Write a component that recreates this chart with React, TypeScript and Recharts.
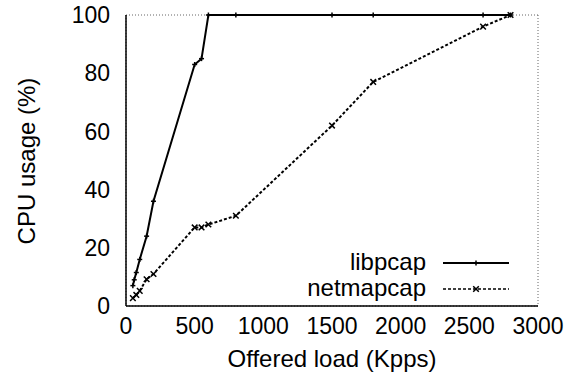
import React from "react";
import {
  LineChart,
  Line,
  XAxis,
  YAxis,
  CartesianGrid,
  ReferenceArea,
} from "recharts";

const libpcapLoad = [50, 60, 75, 100, 150, 200, 500, 550, 600, 800, 1500, 1800, 2600, 2800];
const libpcapCpu = [7, 9, 11.5, 16, 24, 36, 83, 85, 100, 100, 100, 100, 100, 100];
const netmapLoad = [50, 75, 100, 150, 200, 500, 550, 600, 800, 1500, 1800, 2600, 2800];
const netmapCpu = [2.7, 3.8, 5.2, 9.2, 11, 27, 27, 28, 31, 62, 77, 96, 100];

const allLoads = Array.from(new Set([...libpcapLoad, ...netmapLoad])).sort((a, b) => a - b);
const chartData = allLoads.map((x) => {
  const li = libpcapLoad.indexOf(x);
  const ni = netmapLoad.indexOf(x);
  return {
    x,
    libpcap: li >= 0 ? libpcapCpu[li] : null,
    netmapcap: ni >= 0 ? netmapCpu[ni] : null,
  };
});
const frameData = allLoads.map((x) => ({ x }));

const FONT = "'Liberation Sans', Arial, Helvetica, sans-serif";
const W = 571;
const H = 386;
const MARGIN = { top: 15, right: 33, bottom: 0, left: 0 };

const PlusDot = (props: any) => {
  const { cx, cy, value } = props;
  if (cx == null || cy == null || value == null) return <g />;
  const s = 2.5;
  return (
    <g>
      <line x1={cx - s} y1={cy} x2={cx + s} y2={cy} stroke="#000" strokeWidth={1.5} />
      <line x1={cx} y1={cy - s} x2={cx} y2={cy + s} stroke="#000" strokeWidth={1.5} />
    </g>
  );
};

const CrossDot = (props: any) => {
  const { cx, cy, value } = props;
  if (cx == null || cy == null || value == null) return <g />;
  const s = 2.8;
  return (
    <g>
      <line x1={cx - s} y1={cy - s} x2={cx + s} y2={cy + s} stroke="#000" strokeWidth={1.5} />
      <line x1={cx - s} y1={cy + s} x2={cx + s} y2={cy - s} stroke="#000" strokeWidth={1.5} />
    </g>
  );
};

const LegendBox = () => {
  const row = (label: string, dash: string | undefined, marker: "plus" | "cross") => (
    <div style={{ display: "flex", alignItems: "center", height: 26 }}>
      <div style={{ width: 161, textAlign: "right", fontSize: 24, color: "#000", lineHeight: "26px" }}>
        {label}
      </div>
      <svg width={100} height={26} style={{ display: "block" }}>
        <line x1={17} y1={14} x2={83} y2={14} stroke="#000" strokeWidth={marker === "plus" ? 2 : 1.5} strokeDasharray={dash} />
        {marker === "plus" ? <PlusDot cx={50} cy={14} value={1} /> : <CrossDot cx={50} cy={14} value={1} />}
      </svg>
    </div>
  );
  return (
    <div style={{ position: "absolute", left: 265, top: 249, width: 271, height: 51, background: "#fff" }}>
      {row("libpcap", undefined, "plus")}
      {row("netmapcap", "3 2", "cross")}
    </div>
  );
};

export default function App() {
  return (
    <div
      style={{
        position: "absolute",
        left: 0,
        top: 0,
        width: W,
        height: H,
        background: "#fff",
        fontFamily: FONT,
      }}
    >
      {/* frame layer: grid, border, inward ticks */}
      <div style={{ position: "absolute", left: 0, top: 0 }}>
        <LineChart width={W} height={H} data={frameData} margin={MARGIN}>
          <CartesianGrid stroke="#666" strokeWidth={1} strokeDasharray="1 2" />
          <XAxis
            dataKey="x"
            type="number"
            domain={[0, 3000]}
            tickCount={7}
            height={80}
            tickSize={-6}
            tick={false}
            stroke="#000"
            axisLine={{ stroke: "#000", strokeWidth: 1.5 }}
            tickLine={{ stroke: "#000" }}
          />
          <YAxis
            type="number"
            domain={[0, 100]}
            tickCount={6}
            width={126}
            tickSize={-6}
            tick={false}
            stroke="#000"
            axisLine={{ stroke: "#000", strokeWidth: 1.5 }}
            tickLine={{ stroke: "#000" }}
          />
          <ReferenceArea x1={0} x2={3000} y1={0} y2={100} fill="none" stroke="#000" strokeWidth={1.5} />
        </LineChart>
      </div>
      {/* data layer: series and tick labels */}
      <div style={{ position: "absolute", left: 0, top: 0 }}>
        <LineChart width={W} height={H} data={chartData} margin={MARGIN}>
          <XAxis
            dataKey="x"
            type="number"
            domain={[0, 3000]}
            tickCount={7}
            height={80}
            tickSize={0}
            tickMargin={12}
            tick={{ fontSize: 23, fill: "#000" }}
            axisLine={false}
            tickLine={false}
          />
          <YAxis
            type="number"
            domain={[0, 100]}
            tickCount={6}
            width={126}
            tickSize={0}
            tickMargin={16}
            tick={{ fontSize: 23, fill: "#000" }}
            axisLine={false}
            tickLine={false}
          />
          <Line
            dataKey="libpcap"
            type="linear"
            stroke="#000"
            strokeWidth={2}
            connectNulls
            dot={<PlusDot />}
            isAnimationActive={false}
          />
          <Line
            dataKey="netmapcap"
            type="linear"
            stroke="#000"
            strokeWidth={2}
            strokeDasharray="3 2"
            connectNulls
            dot={<CrossDot />}
            isAnimationActive={false}
          />
        </LineChart>
      </div>
      <div
        style={{
          position: "absolute",
          left: 126,
          width: 412,
          top: 345,
          textAlign: "center",
          fontSize: 24,
          color: "#000",
          lineHeight: "28px",
        }}
      >
        Offered load (Kpps)
      </div>
      <div
        style={{
          position: "absolute",
          left: 27 - 100,
          top: 161 - 14,
          width: 200,
          height: 28,
          textAlign: "center",
          fontSize: 24,
          color: "#000",
          lineHeight: "28px",
          transform: "rotate(-90deg)",
        }}
      >
        CPU usage (%)
      </div>
      <LegendBox />
    </div>
  );
}
